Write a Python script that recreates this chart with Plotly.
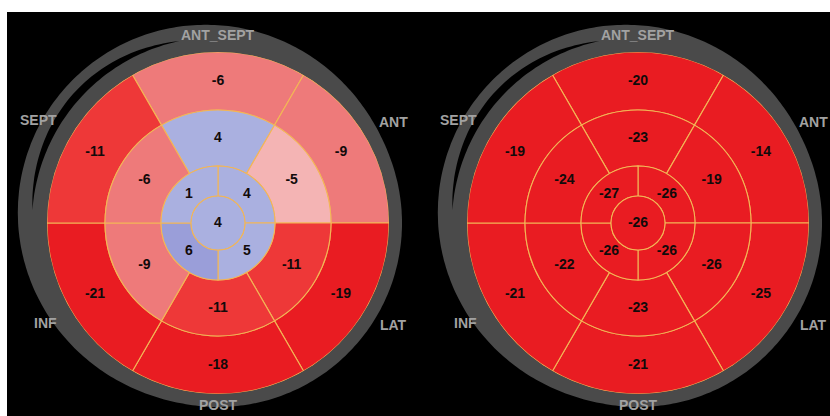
import numpy as np
import plotly.graph_objects as go

# Wall names, clockwise from the top of the bull's-eye
walls = ["ANT_SEPT", "ANT", "LAT", "POST", "INF", "SEPT"]
wall_theta = [90, 30, 330, 270, 210, 150]
apical_theta = [45, 315, 225, 135]

# Peak systolic strain (%) per segment
left_basal = [-6, -9, -19, -18, -21, -11]
left_mid = [4, -5, -11, -11, -9, -6]
left_apical = [4, 5, 6, 1]
left_apex = [4]

right_basal = [-20, -14, -25, -21, -21, -19]
right_mid = [-23, -19, -26, -23, -22, -24]
right_apical = [-26, -26, -26, -27]
right_apex = [-26]

# ring radii in pixels (apex, apical, mid, basal)
R_APEX, R_APICAL, R_MID, R_BASAL = 27, 57, 113, 171
W, H = 830, 416
CY = 223
CENTERS = [218, 638]

# stepped strain colour scale, cmin=-30 .. cmax=10
deep, red, pink, lpink, lblue, blue = ("#e91c22", "#ee3838", "#ee7a7a",
                                       "#f4b4b4", "#aab0e0", "#9a9ed9")
e = 1e-4
strain_scale = [
    [0.0, deep], [0.4, deep], [0.4 + e, red], [0.5, red], [0.5 + e, pink],
    [0.6, pink], [0.6 + e, lpink], [0.75 - e, lpink], [0.75, lblue],
    [0.9 - e, lblue], [0.9, blue], [1.0, blue],
]
CMIN, CMAX = -30, 10
EDGE = "#f3b656"

fig = go.Figure()


def add_bullseye(polar, basal, mid, apical, apex):
    thetas = wall_theta + wall_theta + apical_theta + [0]
    widths = [60] * 12 + [90] * 4 + [360]
    bases = [R_MID] * 6 + [R_APICAL] * 6 + [R_APEX] * 4 + [0]
    tops = [R_BASAL] * 6 + [R_MID] * 6 + [R_APICAL] * 4 + [R_APEX]
    vals = basal + mid + apical + apex
    fig.add_trace(go.Barpolar(
        theta=thetas, width=widths, base=bases,
        r=[t - b for t, b in zip(tops, bases)],
        marker=dict(color=vals, colorscale=strain_scale, cmin=CMIN, cmax=CMAX,
                    line=dict(color=EDGE, width=1.1)),
        subplot=polar, showlegend=False, hoverinfo="skip",
    ))
    text_r = [142] * 6 + [85] * 6 + [41] * 4 + [0]
    fig.add_trace(go.Scatterpolar(
        r=text_r, theta=thetas, mode="text",
        text=[str(v) for v in vals],
        textfont=dict(family="Liberation Sans", size=14, color="#120a0a",
                      weight="bold"),
        subplot=polar, showlegend=False, hoverinfo="skip", cliponaxis=False,
    ))


add_bullseye("polar", left_basal, left_mid, left_apical, left_apex)
add_bullseye("polar2", right_basal, right_mid, right_apical, right_apex)

# invisible pixel-space axes used for the frame and wall labels
fig.add_trace(go.Scatter(x=[0, W], y=[0, H], mode="markers",
                         marker=dict(opacity=0), showlegend=False,
                         hoverinfo="skip"))


def polar_path(cx, rs, ths, close=True):
    pts = [f"{cx + r * np.cos(np.radians(t)):.1f},{CY - r * np.sin(np.radians(t)):.1f}"
           for r, t in zip(rs, ths)]
    return "M" + " L".join(pts) + (" Z" if close else "")


shapes = [dict(type="rect", xref="x", yref="y", x0=7, x1=W, y0=12, y1=H,
               fillcolor="black", line=dict(width=0), layer="below")]
th = np.linspace(0, 360, 361)
r_out = 184 + 20 * np.clip(np.cos(np.radians((th - 140) * 0.75)), 0, None) ** 1.6
gth = np.linspace(102, 176, 60)
g_out = 186 + 8 * np.sin(np.pi * (gth - 102) / 74)
for cx in CENTERS:
    shapes.append(dict(type="path", xref="x", yref="y", layer="below",
                       path=polar_path(cx, r_out, th),
                       fillcolor="#4a4a4a", line=dict(width=0)))
    gap = polar_path(cx, list(g_out) + [186] * len(gth),
                     list(gth) + list(gth[::-1]))
    shapes.append(dict(type="path", xref="x", yref="y", layer="below",
                       path=gap, fillcolor="black", line=dict(width=0)))

# wall labels around each bull's-eye
label_r = [188, 203, 203, 182, 199, 207]
annotations = []
for cx in CENTERS:
    for name, t, r in zip(walls, wall_theta, label_r):
        annotations.append(dict(
            x=cx + r * np.cos(np.radians(t)), y=CY - r * np.sin(np.radians(t)),
            xref="x", yref="y", text=name, showarrow=False,
            font=dict(family="Liberation Sans", size=14, color="#a2a2a2",
                      weight="bold")))

polar_common = dict(
    bgcolor="rgba(0,0,0,0)",
    radialaxis=dict(visible=False, range=[0, R_BASAL]),
    angularaxis=dict(visible=False, rotation=0, direction="counterclockwise"),
)
ydom = [(H - CY - R_BASAL) / H, (H - CY + R_BASAL) / H]
fig.update_layout(
    width=W, height=H, margin=dict(l=0, r=0, t=0, b=0),
    paper_bgcolor="white", plot_bgcolor="white",
    xaxis=dict(range=[0, W], visible=False, fixedrange=True, domain=[0, 1]),
    yaxis=dict(range=[H, 0], visible=False, fixedrange=True, domain=[0, 1]),
    polar=dict(domain=dict(x=[(CENTERS[0] - R_BASAL) / W, (CENTERS[0] + R_BASAL) / W],
                           y=ydom), **polar_common),
    polar2=dict(domain=dict(x=[(CENTERS[1] - R_BASAL) / W, (CENTERS[1] + R_BASAL) / W],
                            y=ydom), **polar_common),
    shapes=shapes, annotations=annotations, showlegend=False,
)

fig.write_html("out.html")
